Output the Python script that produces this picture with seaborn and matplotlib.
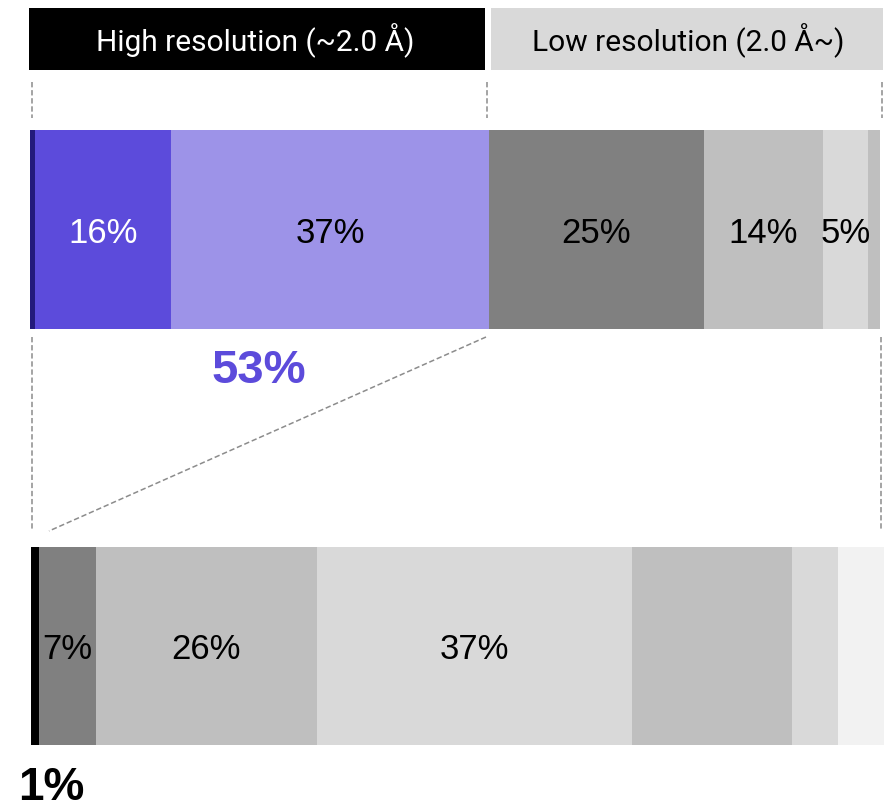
import numpy as np
import pandas as pd
import matplotlib
matplotlib.use("Agg")
import matplotlib.pyplot as plt
import seaborn as sns
from matplotlib.patches import Rectangle

sns.set_theme(style="white")
plt.rcParams['font.family'] = ['Liberation Sans', 'DejaVu Sans']

# ---- data ----
top_values = [0.6, 16.0, 37.4, 25.3, 14.0, 5.3, 1.4]
top_labels = ["", "16%", "37%", "25%", "14%", "5%", ""]
top_colors = ["#241a7c", "#5c4bdb", "#9d93e8", "#808080", "#bfbfbf", "#d9d9d9", "#bfbfbf"]
top_text_colors = ["white", "white", "black", "black", "black", "black", "black"]

bottom_values = [0.9, 6.7, 25.9, 37.0, 18.7, 5.4, 5.4]
bottom_labels = ["", "7%", "26%", "37%", "", "", ""]
bottom_colors = ["#000000", "#808080", "#bfbfbf", "#d9d9d9", "#bfbfbf", "#d9d9d9", "#f2f2f2"]
bottom_text_colors = ["black"] * 7

header_labels = ["High resolution (~2.0 Å)", "Low resolution (2.0 Å~)"]
high_share_label = "53%"
low_share_label = "1%"

W, H = 891, 811
fig = plt.figure(figsize=(W / 100, H / 100), dpi=100)


def px_axes(x0, y0, x1, y1):
    return fig.add_axes([x0 / W, 1 - y1 / H, (x1 - x0) / W, (y1 - y0) / H])


def stacked(ax, values, colors, labels, tcolors):
    cum = np.cumsum(values)
    df = pd.DataFrame({"cum": cum, "row": ["bar"] * len(values)})
    for i in reversed(range(len(values))):
        sns.barplot(data=df.iloc[[i]], x="cum", y="row", color=colors[i],
                    width=1.0, saturation=1, errorbar=None, orient="h",
                    edgecolor="none", linewidth=0, ax=ax)
    for c, v, lab, tc in zip(cum, values, labels, tcolors):
        if lab:
            ax.text(c - v / 2, 0.066, lab, ha="center", va="baseline",
                    fontsize=25, color=tc)
    ax.set_xlim(0, 100)
    ax.set_ylim(0.5, -0.5)
    ax.axis("off")


ax_top = px_axes(30, 130, 880, 329)
stacked(ax_top, top_values, top_colors, top_labels, top_text_colors)

ax_bot = px_axes(31, 547, 884, 745)
stacked(ax_bot, bottom_values, bottom_colors, bottom_labels, bottom_text_colors)

# ---- overlay for annotations ----
ov = fig.add_axes([0, 0, 1, 1])
ov.set_xlim(0, W)
ov.set_ylim(H, 0)
ov.axis("off")
ov.patch.set_alpha(0)

ov.add_patch(Rectangle((29, 8), 456, 62, color="black", lw=0))
ov.add_patch(Rectangle((491, 8), 392, 62, color="#d9d9d9", lw=0))
ov.text(255, 51, header_labels[0], ha="center", va="baseline", fontsize=21.5,
        color="white", family=["Roboto", "DejaVu Sans"])
ov.text(688, 51, header_labels[1], ha="center", va="baseline", fontsize=21.5,
        color="black", family=["Roboto", "DejaVu Sans"])

dash = dict(color="#8c8c8c", lw=1.1, linestyle=(0, (3.5, 1.8)))
for x in (32, 487, 882):
    ov.plot([x, x], [82, 118], **dash)
ov.plot([32, 32], [337, 531], **dash)
ov.plot([881, 881], [337, 531], **dash)
ov.plot([486, 49], [337, 531], **dash)

ov.text(259, 383, high_share_label, ha="center", va="baseline", fontsize=34,
        fontweight="bold", color="#5c4bdb")
ov.text(51, 800, low_share_label, ha="center", va="baseline", fontsize=33,
        fontweight="bold", color="black")

fig.savefig("out.png", dpi=100)
